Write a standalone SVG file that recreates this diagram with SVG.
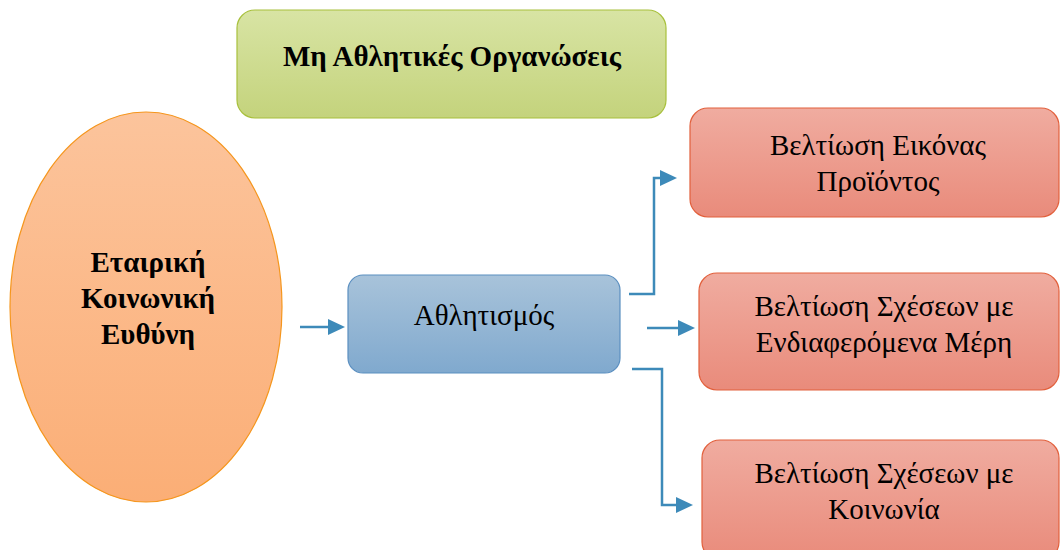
<svg xmlns="http://www.w3.org/2000/svg" width="1060" height="550" viewBox="0 0 1060 550">
<style>
text{font-family:"Liberation Serif","Times New Roman",serif;fill:#000;text-anchor:middle}
.b{font-weight:bold}
.c{fill:none;stroke:#3d8ab9;stroke-width:2.5}
</style>
<defs>
<linearGradient id="gG" x1="0" y1="0" x2="0" y2="1"><stop offset="0" stop-color="#d8e4a4"/><stop offset="1" stop-color="#c4d37c"/></linearGradient>
<linearGradient id="gO" x1="0" y1="0" x2="0" y2="1"><stop offset="0" stop-color="#fcc49c"/><stop offset="1" stop-color="#fbae76"/></linearGradient>
<linearGradient id="gB" x1="0" y1="0" x2="0" y2="1"><stop offset="0" stop-color="#a8c3da"/><stop offset="1" stop-color="#80a9ce"/></linearGradient>
<linearGradient id="gR" x1="0" y1="0" x2="0" y2="1"><stop offset="0" stop-color="#f0aca0"/><stop offset="1" stop-color="#e98b7b"/></linearGradient>
</defs>
<g id="connectors">
<path class="c" d="M300,327 H330" />
<path d="M328,319 L345,327 L328,335 z" fill="#3d8ab9"/>
<path class="c" d="M629,294 H654 V178 H662"/>
<path d="M660,170 L677,178 L660,186 z" fill="#3d8ab9"/>
<path class="c" d="M647,328 H680"/>
<path d="M678,320 L695,328 L678,336 z" fill="#3d8ab9"/>
<path class="c" d="M632,369 H662 V505 H678"/>
<path d="M676,497 L693,505 L676,513 z" fill="#3d8ab9"/>
</g>
<g id="n-green">
<rect x="237" y="10" width="429" height="108" rx="18" fill="url(#gG)" stroke="#a8c03c" stroke-width="1.2"/>
<text class="b" x="452" y="66" font-size="29">Μη Αθλητικές Οργανώσεις</text>
</g>
<g id="n-csr">
<ellipse cx="146" cy="307" rx="136" ry="195" fill="url(#gO)" stroke="#f5961d" stroke-width="1.2"/>
<text class="b" font-size="29"><tspan x="148" y="272">Εταιρική</tspan><tspan x="148" y="308">Κοινωνική</tspan><tspan x="148" y="344">Ευθύνη</tspan></text>
</g>
<g id="n-sport">
<rect x="348" y="275" width="272" height="98" rx="15" fill="url(#gB)" stroke="#5b8fc0" stroke-width="1.2"/>
<text x="484" y="325" font-size="29">Αθλητισμός</text>
</g>
<g id="n-image">
<rect x="690" y="108" width="369" height="109" rx="18" fill="url(#gR)" stroke="#e2603c" stroke-width="1.2"/>
<text font-size="29"><tspan x="878" y="155">Βελτίωση Εικόνας</tspan><tspan x="878" y="191">Προϊόντος</tspan></text>
</g>
<g id="n-stake">
<rect x="699" y="273" width="360" height="117" rx="18" fill="url(#gR)" stroke="#e2603c" stroke-width="1.2"/>
<text font-size="29"><tspan x="884" y="316">Βελτίωση Σχέσεων με</tspan><tspan x="884" y="352">Ενδιαφερόμενα Μέρη</tspan></text>
</g>
<g id="n-society">
<rect x="702" y="440" width="357" height="120" rx="18" fill="url(#gR)" stroke="#e2603c" stroke-width="1.2"/>
<text font-size="29"><tspan x="884" y="483">Βελτίωση Σχέσεων με</tspan><tspan x="884" y="519">Κοινωνία</tspan></text>
</g>
</svg>
